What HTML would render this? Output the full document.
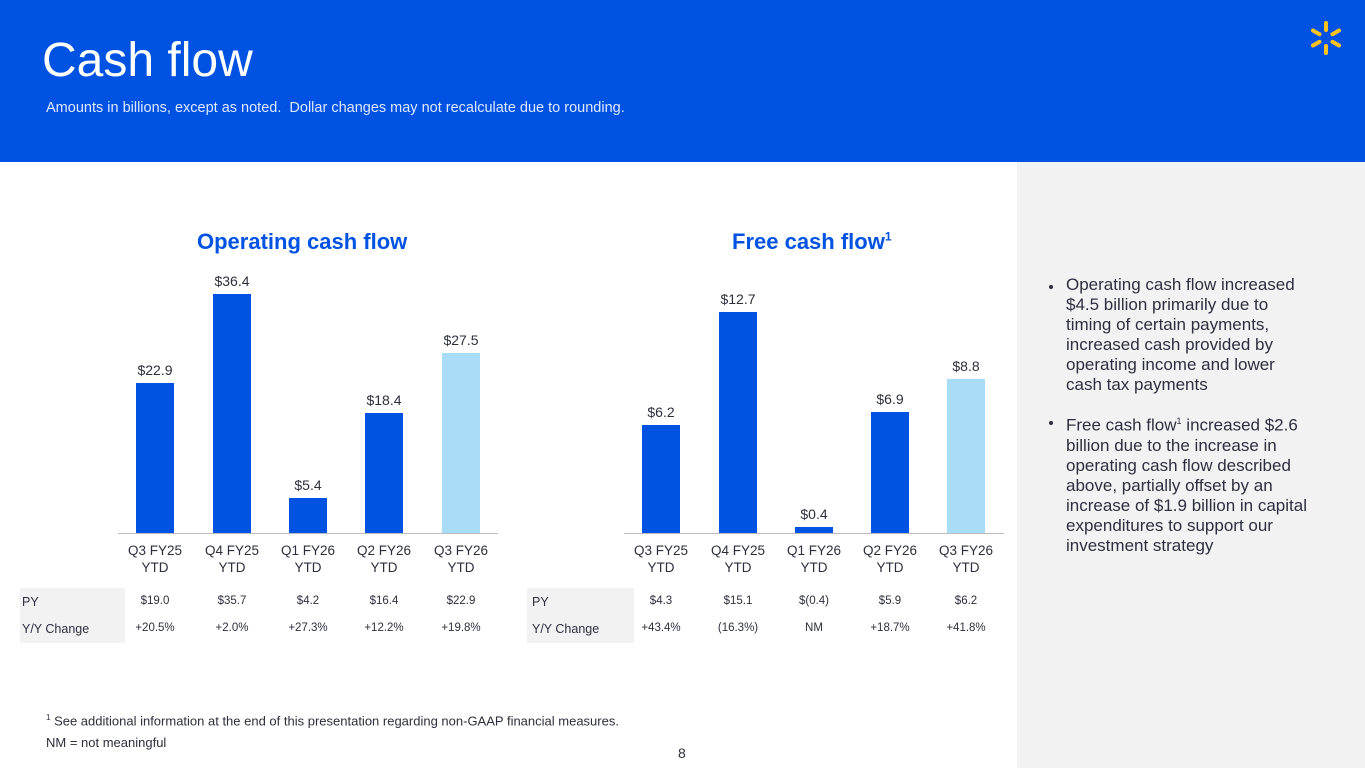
<!DOCTYPE html>
<html><head><meta charset="utf-8"><style>
*{margin:0;padding:0;box-sizing:border-box}
body{width:1365px;height:768px;position:relative;overflow:hidden;background:#fff;font-family:"Liberation Sans",sans-serif;color:#2e2f3e}
.a{position:absolute;white-space:nowrap}
.hdr{position:absolute;left:0;top:0;width:1365px;height:162px;background:#0053e2}
.side{position:absolute;left:1017px;top:162px;width:348px;height:606px;background:#f2f2f3}
.bar{position:absolute;width:38px;background:#0053e2}
.lbl{position:absolute;width:80px;text-align:center;font-size:14px;color:#2e2f3e}
.cat{position:absolute;width:80px;text-align:center;font-size:13.5px;line-height:17px;color:#2e2f3e}
.tv{position:absolute;width:80px;text-align:center;font-size:11.5px;color:#2e2f3e}
.bul{position:absolute;left:1066px;width:248px;font-size:17px;line-height:20px;color:#2e2f3e}
.dot{position:absolute;left:1049px;width:4px;height:4px;border-radius:2px;background:#2e2f3e}
</style></head><body>
<div class="hdr"></div>
<div class="a" style="left:42px;top:33px;font-size:48px;color:#fff">Cash flow</div>
<div class="a" style="left:46px;top:100px;font-size:14.5px;color:#dfe8ff">Amounts in billions, except as noted.&nbsp; Dollar changes may not recalculate due to rounding.</div>
<svg class="a" style="left:1306px;top:18px" width="40" height="40" viewBox="-20 -20 40 40">
<g stroke="#ffc220" stroke-width="4" stroke-linecap="round">
<line x1="0" y1="-8" x2="0" y2="-15"/><line x1="0" y1="8" x2="0" y2="15"/>
<line x1="6.5" y1="-3.8" x2="13" y2="-7.5"/><line x1="-6.5" y1="-3.8" x2="-13" y2="-7.5"/>
<line x1="6.5" y1="3.8" x2="13" y2="7.5"/><line x1="-6.5" y1="3.8" x2="-13" y2="7.5"/>
</g></svg>
<div class="side"></div>

<div class="a" style="left:197px;top:229px;font-size:22px;font-weight:bold;color:#0053e2">Operating cash flow</div>
<div class="a" style="left:732px;top:229px;font-size:22px;font-weight:bold;color:#0053e2">Free cash flow<sup style="font-size:12px">1</sup></div>

<!-- left chart -->
<div class="a" style="left:118px;top:533px;width:380px;height:1px;background:#bbb"></div>
<div class="bar" style="left:136px;top:383px;height:150px"></div>
<div class="bar" style="left:213px;top:294px;height:239px"></div>
<div class="bar" style="left:289px;top:498px;height:35px"></div>
<div class="bar" style="left:365px;top:413px;height:120px"></div>
<div class="bar" style="left:442px;top:353px;height:180px;background:#a9ddf7"></div>
<div class="lbl" style="left:115px;top:362px">$22.9</div>
<div class="lbl" style="left:192px;top:273px">$36.4</div>
<div class="lbl" style="left:268px;top:477px">$5.4</div>
<div class="lbl" style="left:344px;top:392px">$18.4</div>
<div class="lbl" style="left:421px;top:332px">$27.5</div>
<div class="cat" style="left:115px;top:542px">Q3 FY25<br>YTD</div>
<div class="cat" style="left:192px;top:542px">Q4 FY25<br>YTD</div>
<div class="cat" style="left:268px;top:542px">Q1 FY26<br>YTD</div>
<div class="cat" style="left:344px;top:542px">Q2 FY26<br>YTD</div>
<div class="cat" style="left:421px;top:542px">Q3 FY26<br>YTD</div>
<div class="a" style="left:20px;top:588px;width:105px;height:55px;background:#f2f2f3"></div>
<div class="a" style="left:22px;top:595px;font-size:12.5px">PY</div>
<div class="a" style="left:22px;top:622px;font-size:12.5px">Y/Y Change</div>
<div class="tv" style="left:115px;top:595px">$19.0</div><div class="tv" style="left:192px;top:595px">$35.7</div><div class="tv" style="left:268px;top:595px">$4.2</div><div class="tv" style="left:344px;top:595px">$16.4</div><div class="tv" style="left:421px;top:595px">$22.9</div>
<div class="tv" style="left:115px;top:622px">+20.5%</div><div class="tv" style="left:192px;top:622px">+2.0%</div><div class="tv" style="left:268px;top:622px">+27.3%</div><div class="tv" style="left:344px;top:622px">+12.2%</div><div class="tv" style="left:421px;top:622px">+19.8%</div>

<!-- right chart -->
<div class="a" style="left:624px;top:533px;width:380px;height:1px;background:#bbb"></div>
<div class="bar" style="left:642px;top:425px;height:108px"></div>
<div class="bar" style="left:719px;top:312px;height:221px"></div>
<div class="bar" style="left:795px;top:527px;height:6px"></div>
<div class="bar" style="left:871px;top:412px;height:121px"></div>
<div class="bar" style="left:947px;top:379px;height:154px;background:#a9ddf7"></div>
<div class="lbl" style="left:621px;top:404px">$6.2</div>
<div class="lbl" style="left:698px;top:291px">$12.7</div>
<div class="lbl" style="left:774px;top:506px">$0.4</div>
<div class="lbl" style="left:850px;top:391px">$6.9</div>
<div class="lbl" style="left:926px;top:358px">$8.8</div>
<div class="cat" style="left:621px;top:542px">Q3 FY25<br>YTD</div>
<div class="cat" style="left:698px;top:542px">Q4 FY25<br>YTD</div>
<div class="cat" style="left:774px;top:542px">Q1 FY26<br>YTD</div>
<div class="cat" style="left:850px;top:542px">Q2 FY26<br>YTD</div>
<div class="cat" style="left:926px;top:542px">Q3 FY26<br>YTD</div>
<div class="a" style="left:527px;top:588px;width:107px;height:55px;background:#f2f2f3"></div>
<div class="a" style="left:532px;top:595px;font-size:12.5px">PY</div>
<div class="a" style="left:532px;top:622px;font-size:12.5px">Y/Y Change</div>
<div class="tv" style="left:621px;top:595px">$4.3</div><div class="tv" style="left:698px;top:595px">$15.1</div><div class="tv" style="left:774px;top:595px">$(0.4)</div><div class="tv" style="left:850px;top:595px">$5.9</div><div class="tv" style="left:926px;top:595px">$6.2</div>
<div class="tv" style="left:621px;top:622px">+43.4%</div><div class="tv" style="left:698px;top:622px">(16.3%)</div><div class="tv" style="left:774px;top:622px">NM</div><div class="tv" style="left:850px;top:622px">+18.7%</div><div class="tv" style="left:926px;top:622px">+41.8%</div>

<!-- bullets -->
<div class="dot" style="top:285px"></div>
<div class="bul" style="top:275px">Operating cash flow increased $4.5 billion primarily due to timing of certain payments, increased cash provided by operating income and lower cash tax payments</div>
<div class="dot" style="top:421px"></div>
<div class="bul" style="top:411px">Free cash flow<sup style="font-size:9px">1</sup> increased $2.6 billion due to the increase in operating cash flow described above, partially offset by an increase of $1.9 billion in capital expenditures to support our investment strategy</div>

<div class="a" style="left:46px;top:713px;font-size:13px"><sup style="font-size:8px">1</sup> See additional information at the end of this presentation regarding non-GAAP financial measures.</div>
<div class="a" style="left:46px;top:735px;font-size:13px">NM = not meaningful</div>
<div class="a" style="left:678px;top:745px;font-size:14px">8</div>
</body></html>
